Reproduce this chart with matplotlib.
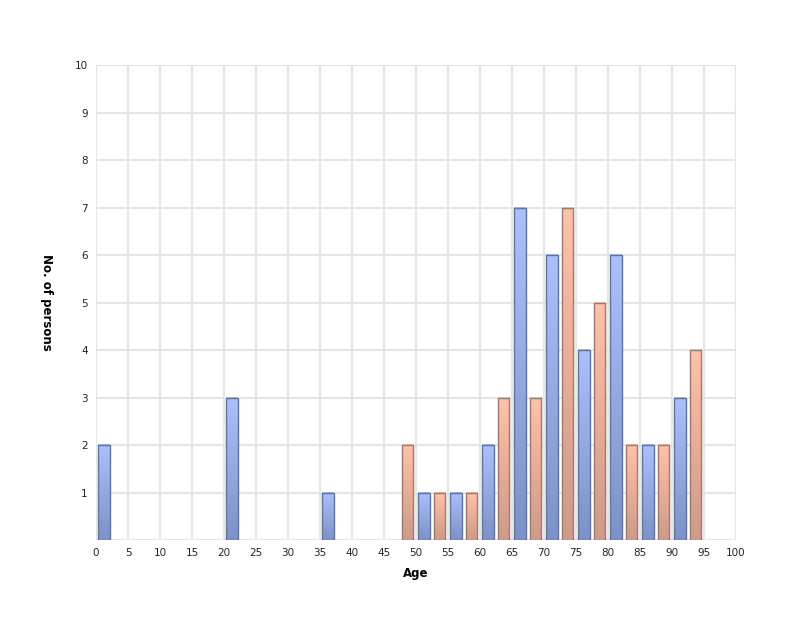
import matplotlib
matplotlib.use("Agg")
import matplotlib.pyplot as plt
import numpy as np
from matplotlib.colors import LinearSegmentedColormap

# 5-year age bins, two series per bin
blue_bins = [0, 20, 35, 50, 55, 60, 65, 70, 75, 80, 85, 90]
blue_counts = [2, 3, 1, 1, 1, 2, 7, 6, 4, 6, 2, 3]
orange_bins = [45, 50, 55, 60, 65, 70, 75, 80, 85, 90]
orange_counts = [2, 1, 1, 3, 3, 7, 5, 2, 2, 4]

x_ticks = list(range(0, 101, 5))
y_ticks = list(range(1, 11))

blue_cmap = LinearSegmentedColormap.from_list("b", ["#7d92c6", "#a9c2fb"])
orange_cmap = LinearSegmentedColormap.from_list("o", ["#cf9a88", "#fdc2aa"])


def gradient_bars(ax, lefts, heights, width, cmap, edge):
    grad = np.linspace(0, 1, 256).reshape(-1, 1)
    for left, h in zip(lefts, heights):
        ax.imshow(grad, cmap=cmap, origin="lower", aspect="auto",
                  extent=(left, left + width, 0, h), zorder=3)
        ax.add_patch(plt.Rectangle((left, 0), width, h, fill=False,
                                   edgecolor=edge, linewidth=1.0, zorder=4))


def main():
    fig = plt.figure(figsize=(8, 6.28), dpi=100)
    ax = fig.add_axes([0.12, 0.14, 0.80, 0.7565])

    width = 1.85
    gradient_bars(ax, [b + 0.3 for b in blue_bins], blue_counts, width, blue_cmap, "#61729c")
    gradient_bars(ax, [b + 2.75 for b in orange_bins], orange_counts, width, orange_cmap, "#a07868")

    ax.set_xlim(0, 100)
    ax.set_ylim(0, 10)
    ax.set_xticks(x_ticks)
    ax.set_yticks(y_ticks)
    ax.tick_params(length=0, labelsize=7.5, colors="#222222", pad=6)
    ax.grid(True, color="#e5e5e5", linewidth=1.5, zorder=0)
    ax.set_axisbelow(True)
    for s in ax.spines.values():
        s.set_visible(False)
    # bottom and right borders as grid-coloured lines
    ax.axhline(0, color="#e5e5e5", linewidth=1.5, zorder=1)
    ax.axvline(100, color="#e5e5e5", linewidth=1.5, zorder=1)

    ax.set_xlabel("Age", fontsize=8.5, fontweight="bold", labelpad=6)
    ax.set_ylabel("No. of persons", fontsize=8.5, fontweight="bold",
                  rotation=-90, labelpad=20, va="center")

    fig.savefig("out.png", dpi=100)


if __name__ == "__main__":
    main()
